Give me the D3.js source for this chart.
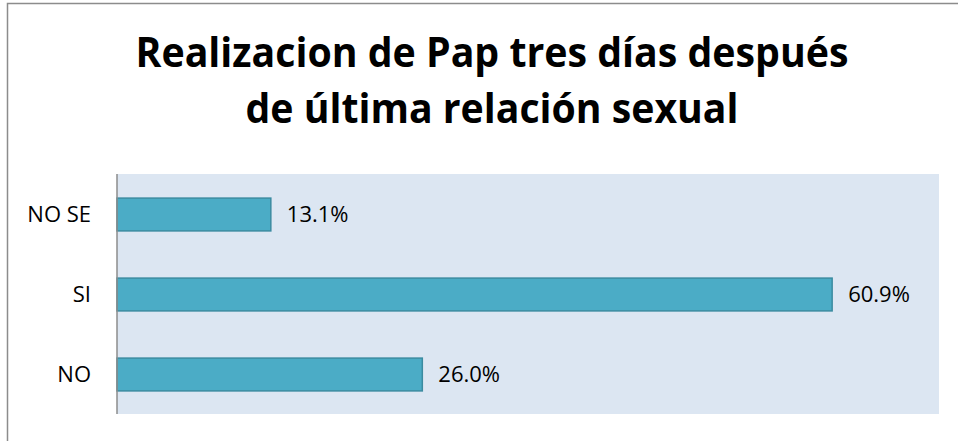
<!DOCTYPE html>
<html>
<head>
<meta charset="utf-8">
<script src="https://cdn.jsdelivr.net/npm/d3@7"></script>
<style>
  html, body { margin: 0; padding: 0; background: #fff; }
  svg { display: block; }
</style>
</head>
<body>
<svg id="chart" width="958" height="441"></svg>
<script>
const titleLines = ["Realizacion de Pap tres días después", "de última relación sexual"];
const categories = ["NO SE", "SI", "NO"];
const values = [13.1, 60.9, 26.0];
const valueLabels = ["13.1%", "60.9%", "26.0%"];
const xDomain = [0, 70];

const svg = d3.select("#chart");

// outer frame (left and top visible)
svg.append("path")
  .attr("d", `M7.5,441 L7.5,3.5 L958,3.5`)
  .attr("fill", "none")
  .attr("stroke", "#8c8c8c")
  .attr("stroke-width", 1.5);

// title
const titleX = 492;
const titleBaselines = [67, 123];
const titleWidths = [713, 493];
titleLines.forEach((t, i) => {
  svg.append("text")
    .attr("x", titleX)
    .attr("y", titleBaselines[i])
    .attr("text-anchor", "middle")
    .attr("font-family", "'Open Sans', 'DejaVu Sans', sans-serif")
    .attr("font-weight", "bold")
    .attr("font-size", 42)
    .attr("fill", "#000")
    .attr("textLength", titleWidths[i])
    .attr("lengthAdjust", "spacingAndGlyphs")
    .text(t);
});

// plot area
const plot = { left: 117, top: 174, right: 939, bottom: 414 };

const x = d3.scaleLinear().domain(xDomain).range([plot.left, plot.right]);
const y = d3.scaleBand().domain(categories).range([plot.top, plot.bottom]).paddingInner(0.59).paddingOuter(0.295);

svg.append("rect")
  .attr("x", plot.left)
  .attr("y", plot.top)
  .attr("width", plot.right - plot.left)
  .attr("height", plot.bottom - plot.top)
  .attr("fill", "#dce6f2");

// bars
svg.append("g").selectAll("rect")
  .data(values)
  .join("rect")
  .attr("x", x(0))
  .attr("y", (d, i) => y(categories[i]) + 0.5)
  .attr("width", d => x(d) - x(0))
  .attr("height", y.bandwidth())
  .attr("fill", "#4bacc6")
  .attr("stroke", "#3b8ba0")
  .attr("stroke-width", 1.5);

// value labels
svg.append("g").selectAll("text")
  .data(values)
  .join("text")
  .attr("x", d => x(d) + 16)
  .attr("y", (d, i) => y(categories[i]) + y.bandwidth() / 2 + 8)
  .attr("font-family", "'Open Sans', sans-serif")
  .attr("font-size", 22)
  .attr("fill", "#000")
  .text((d, i) => valueLabels[i]);

// y axis
const yAxis = d3.axisLeft(y).tickSize(0).tickPadding(26);
const gy = svg.append("g")
  .attr("transform", `translate(${plot.left},0)`)
  .call(yAxis);
gy.select(".domain").attr("stroke", "#8c8c8c").attr("stroke-width", 1.5)
  .attr("d", `M0,${plot.top}V${plot.bottom}`);
gy.selectAll("text")
  .attr("font-family", "'Open Sans', sans-serif")
  .attr("font-size", 22)
  .attr("fill", "#000")
  .attr("dy", "0.36em");
</script>
</body>
</html>
